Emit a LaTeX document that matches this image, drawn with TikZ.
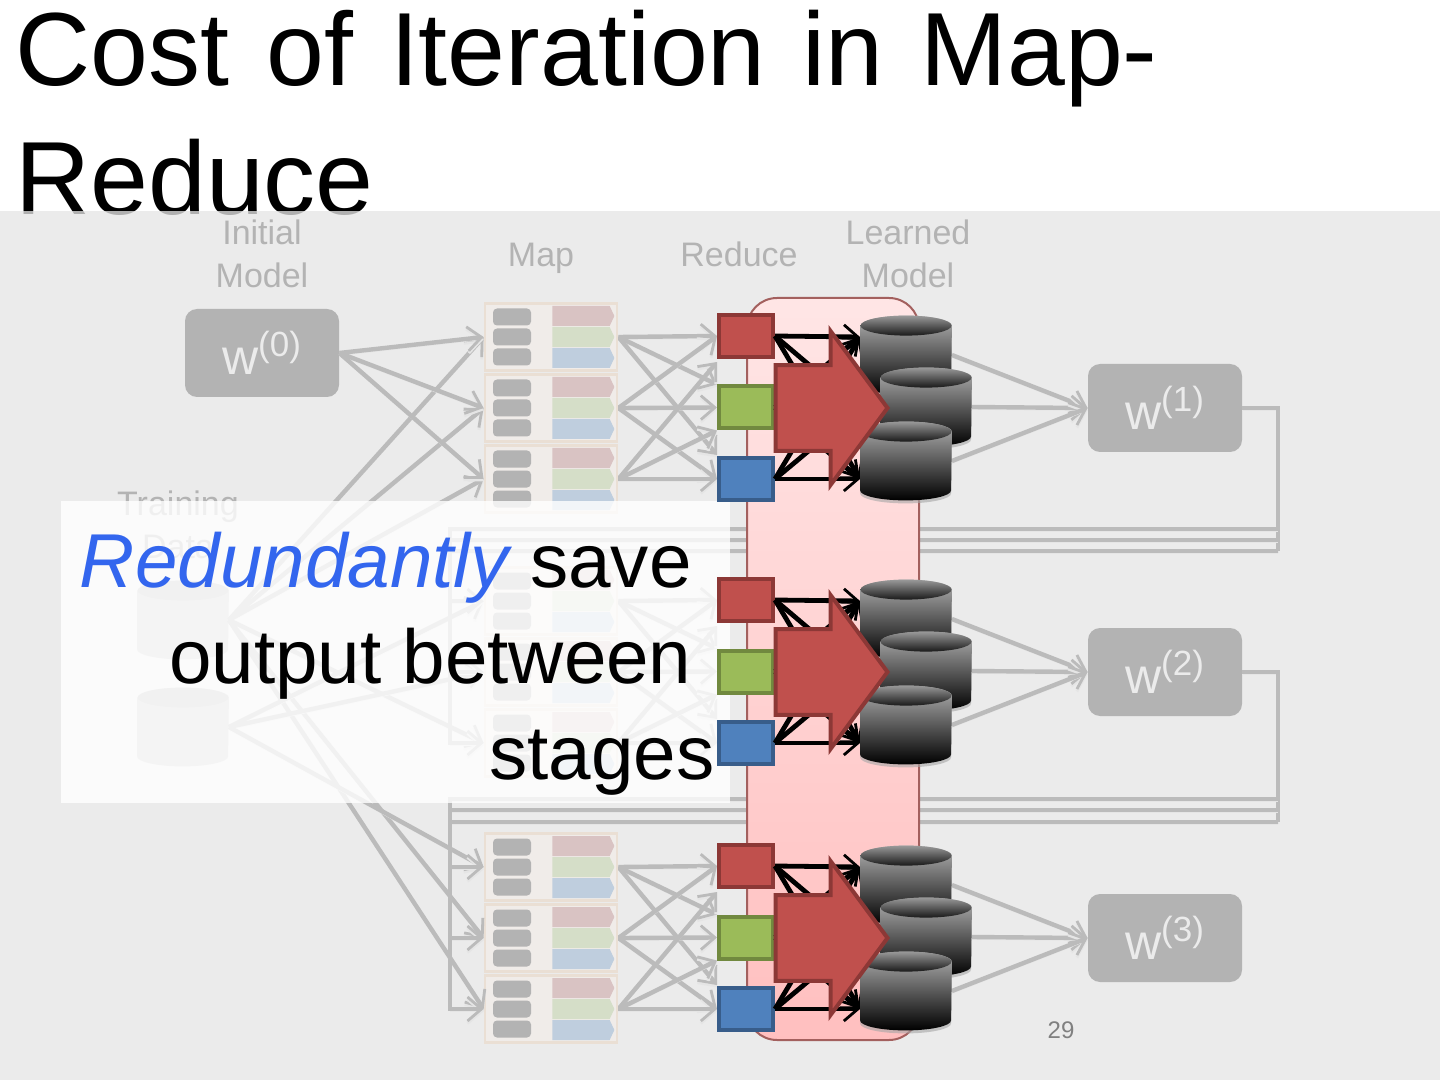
\documentclass[tikz,border=0pt]{standalone}
\usepackage{fontspec}
\setmainfont{Liberation Sans}
\usetikzlibrary{arrows.meta,shapes.arrows,shapes.symbols}

\definecolor{panelveil}{HTML}{E5E5E5}
\definecolor{panelgray}{HTML}{EBEBEB}
\definecolor{dimgray}{HTML}{BBBBBB}
\definecolor{labelgray}{HTML}{B3B3B3}
\definecolor{mapfill}{HTML}{F0ECE9}
\definecolor{mapline}{HTML}{EADFD4}
\definecolor{chunkred}{HTML}{D9C3C3}
\definecolor{chunkgreen}{HTML}{D5DEC8}
\definecolor{chunkblue}{HTML}{BFCEDE}
\definecolor{redfill}{HTML}{C0504D}
\definecolor{redline}{HTML}{8C3836}
\definecolor{greenfill}{HTML}{9BBB59}
\definecolor{greenline}{HTML}{71893F}
\definecolor{bluefill}{HTML}{4F81BD}
\definecolor{blueline}{HTML}{385D8A}
\definecolor{calloutblue}{HTML}{3366EE}

\pgfdeclarelayer{back}
\pgfsetlayers{back,main}

\tikzset{
	lineshadow/.style = {preaction={draw=black!10, transform canvas={yshift=-1.2pt}}},
	edge/.style = {-{Straight Barb[length=7pt,width=12pt,line width=1.4pt]}, draw=dimgray, line width=2.2pt, lineshadow},
	plain/.style = {draw=dimgray, line width=2.2pt, lineshadow},
	hotedge/.style = {-{Straight Barb[length=7pt,width=12pt,line width=1.4pt]}, draw=black, line width=2.4pt},
	label/.style = {text=labelgray, font=\fontsize{17}{21.5}\selectfont, align=center},
	model/.style = {rounded corners=6pt, fill=labelgray, minimum width=77pt, minimum height=44pt, text=panelgray, font=\fontsize{25}{30}\selectfont},
	mapbox/.style = {draw=mapline, line width=1.4pt, fill=mapfill, minimum width=66pt, minimum height=33.5pt},
	slot/.style = {rounded corners=2pt, fill=labelgray, minimum width=19pt, minimum height=8.5pt, inner sep=0pt},
	chunk/.style = {signal, signal to=east, signal pointer angle=130, minimum width=31pt, minimum height=10pt, inner sep=0pt},
	reducebox/.style = {line width=2pt, minimum width=27pt, minimum height=21pt, inner sep=0pt},
	barrel/.style = {minimum width=45.5pt, minimum height=39pt, inner sep=0pt},
	storebody/.style = {top color=black!30, bottom color=black},
	storelid/.style = {top color=black!40, bottom color=black!90},
	titletext/.style = {anchor=base west, inner sep=0pt, font=\fontsize{52}{62}\selectfont},
}

% outline of a barrel round a named node
\newcommand{\barrelpath}[1]{([yshift=-5pt]#1.north west) -- ([yshift=5pt]#1.south west) arc (180:360:22.75pt and 5pt) -- ([yshift=-5pt]#1.north east) arc (0:180:22.75pt and 5pt) -- cycle}

\begin{document}
\begin{tikzpicture}[x=.5pt,y=-.5pt]
	\useasboundingbox (0,0) rectangle (1440,1080);

	\begin{pgfonlayer}{back}
	\fill[white] (0,0) rectangle (1440,1080);
	\node[titletext] (title1) at (15,86) {\spaceskip=.356em\relax Cost of Iteration in Map-};
	\node[titletext] (title2) at (15,215) {Reduce};
	\fill[panelveil, opacity=.77] (0,211) rectangle (1440,1080);
	\end{pgfonlayer}

	% column headings
	\node[label] (initial) at (262,254) {Initial\\Model};
	\node[label] (maplabel) at (541,258) {Map};
	\node[label] (reducelabel) at (739,254) {Reduce};
	\node[label] (learned) at (908,254) {Learned\\Model};
	\node[label] (training) at (178,525) {Training\\Data};
	\node[label, font=\fontsize{12}{14}\selectfont, text=black!50] (page) at (1061,1030) {29};

	% models
	\node[model] (w0) at (262,353) {w\textsuperscript{(0)}};
	\node[model] (w1) at (1165,408) {w\textsuperscript{(1)}};
	\node[model] (w2) at (1165,672) {w\textsuperscript{(2)}};
	\node[model] (w3) at (1165,938) {w\textsuperscript{(3)}};

	% training data
	\node[barrel] (data1) at (183,620) {};
	\node[barrel] (data2) at (183,727) {};
	\foreach \d in {data1,data2} {
		\fill[black!20] \barrelpath{\d};
		\fill[black!26] ([yshift=-5pt]\d.north) ellipse (22.75pt and 5pt);
	}

	% map blocks, one column per iteration
	\foreach \it/\off in {1/0,2/264,3/530} {
		\foreach \m/\base in {1/337,2/408,3/479} {
			\node[mapbox] (map\it-\m) at (551,\base+\off) {};
			\foreach \k/\dy/\tone in {1/-20/chunkred,2/0/chunkgreen,3/20/chunkblue} {
				\node[slot] (slot\it-\m-\k) at (512,\base+\off+\dy) {};
				\node[chunk, fill=\tone] (chunk\it-\m-\k) at (581,\base+\off+1.05*\dy) {};
			}
			\coordinate (in\it-\m) at (860,\base+\off);
		}
	}

	% data and model lines into the maps
	\foreach \source/\dest in {data1/1-1,data1/1-2,data1/1-3,data1/2-3,data1/3-2,data1/3-3,data2/2-1,data2/2-2,data2/3-1,w0/1-1,w0/1-2,w0/1-3}
		\draw[edge] (\source.east) to (map\dest.west);

	% feedback loops
	\coordinate (back1) at (1278,408);
	\coordinate (back2) at (1278,672);
	\coordinate (bend1) at (1278,551);
	\coordinate (bend2) at (1278,822);
	\draw[plain] (w1.east) -- (back1) -- (bend1);
	\draw[plain] (w2.east) -- (back2) -- (bend2);
	\foreach \y/\m in {529/1,540/2,551/3} {
		\coordinate (turn1-\m) at (1278,\y);
		\draw[edge] (turn1-\m) -- (450,\y) |- (map2-\m.west);
	}
	\foreach \y/\m in {799/1,810/2,822/3} {
		\coordinate (turn2-\m) at (1278,\y);
		\draw[edge] (turn2-\m) -- (450,\y) |- (map3-\m.west);
	}

	% callout
	\fill[white, opacity=.8] (61,501) rectangle (730,803);
	\node[anchor=north east, align=right, inner sep=0pt, font=\fontsize{38.2}{48}\selectfont] (callout) at (715,532) {{\itshape\color{calloutblue}Redundantly} save\rule{11.5pt}{0pt}\\output between\rule{11.5pt}{0pt}\\stages};

	% pink store behind the reducers
	\node[rounded corners=15pt, draw=redline!80!white, line width=1pt, top color=red!10!white, bottom color=red!25!white, minimum width=86pt, minimum height=371pt, inner sep=0pt] (memory) at (833,669) {};

	\foreach \it/\off/\next in {1/0/1,2/264/2,3/530/3} {
		\node[reducebox, fill=redfill, draw=redline] (red\it) at (746,336+\off) {};
		\node[reducebox, fill=greenfill, draw=greenline] (green\it) at (746,407.5+\off) {};
		\node[reducebox, fill=bluefill, draw=blueline] (blue\it) at (746,479+\off) {};
		\begin{pgfonlayer}{back}
		\foreach \m/\ra/\ga/\ba in {1/0pt/11.5pt/12pt,2/0pt/0pt/0pt,3/-13pt/-11.5pt/0pt} {
			\draw[edge] (map\it-\m.east) to ([yshift=\ra]red\it.west);
			\draw[edge] (map\it-\m.east) to ([yshift=\ga]green\it.west);
			\draw[edge] (map\it-\m.east) to ([yshift=\ba]blue\it.west);
		}
		\end{pgfonlayer}
		\foreach \m in {1,2,3} {
			\draw[hotedge] (red\it.east) to (in\it-\m);
			\draw[hotedge] (green\it.east) to (in\it-\m);
			\draw[hotedge] (blue\it.east) to (in\it-\m);
		}
		\node[barrel] (store\it-1) at (906,355+\off) {};
		\node[barrel] (store\it-2) at (926,407+\off) {};
		\node[barrel] (store\it-3) at (906,461+\off) {};
		\foreach \m in {1,2,3} {
			\fill[black!35, opacity=.6, transform canvas={yshift=-1.5pt}] \barrelpath{store\it-\m};
			\shade[storebody] \barrelpath{store\it-\m};
			\shade[storelid] ([yshift=-5pt]store\it-\m.north) ellipse (22.75pt and 5pt);
			\begin{pgfonlayer}{back}
			\draw[edge] (store\it-\m.east) to (w\next.west);
			\end{pgfonlayer}
		}
		\node[single arrow, anchor=tip, draw=redline, fill=redfill, line width=2pt, inner xsep=0pt, inner ysep=19.75pt, minimum width=77pt, minimum height=56pt, single arrow head extend=16.5pt, single arrow tip angle=107] (save\it) at (890,408+\off) {};
	}
\end{tikzpicture}
\end{document}
